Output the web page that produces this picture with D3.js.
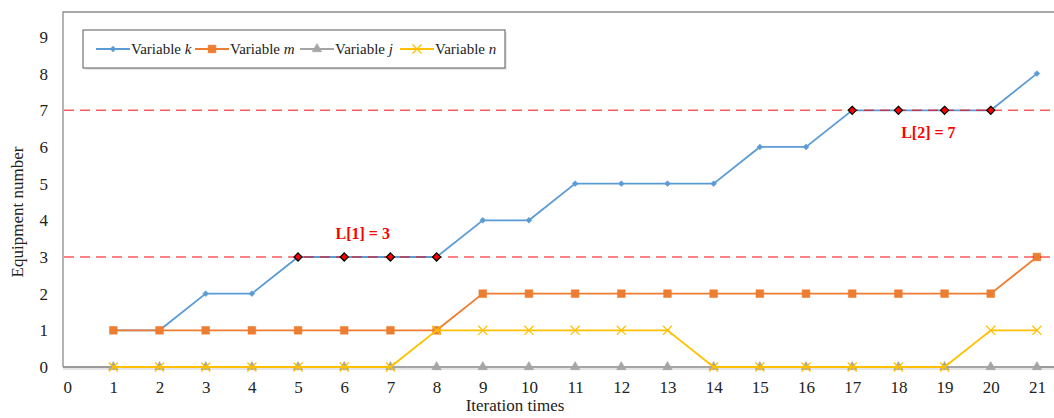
<!DOCTYPE html>
<html>
<head>
<meta charset="utf-8">
<script src="https://cdn.jsdelivr.net/npm/d3@7"></script>
<style>
    body { margin: 0; background: #fff; }
    svg text { font-family: "Liberation Serif", "Times New Roman", serif; fill: #222; }
</style>
</head>
<body>
<div id="chart"></div>
<script>
// iteration numbers on the x axis
const iterations = d3.range(1, 22);
const xTicks = d3.range(0, 22);
const yTicks = d3.range(0, 10);

// series values
const varK = [1, 1, 2, 2, 3, 3, 3, 3, 4, 4, 5, 5, 5, 5, 6, 6, 7, 7, 7, 7, 8];
const varM = [1, 1, 1, 1, 1, 1, 1, 1, 2, 2, 2, 2, 2, 2, 2, 2, 2, 2, 2, 2, 3];
const varJ = [0, 0, 0, 0, 0, 0, 0, 0, 0, 0, 0, 0, 0, 0, 0, 0, 0, 0, 0, 0, 0];
const varN = [0, 0, 0, 0, 0, 0, 0, 1, 1, 1, 1, 1, 1, 0, 0, 0, 0, 0, 0, 1, 1];

// limit lines and the highlighted k points on them
const limits = [3, 7];
const limitLabels = ['L[1] = 3', 'L[2] = 7'];
const limitLabelAt = [[6.4, 3.5], [18.65, 6.25]];
const highlighted = [5, 6, 7, 8, 17, 18, 19, 20];

const series = [
    { name: 'k', values: varK, color: '#5b9bd5', symbol: d3.symbolDiamond2, size: 22 },
    { name: 'm', values: varM, color: '#ed7d31', symbol: d3.symbolSquare, size: 60 },
    { name: 'j', values: varJ, color: '#a5a5a5', symbol: d3.symbolTriangle, size: 40 },
    { name: 'n', values: varN, color: '#ffc000', symbol: d3.symbolX, size: 55 }
];

const width = 1054, height = 418;
const plotLeft = 63, plotTop = 12, plotRight = 1054, plotBottom = 367;

const svg = d3.select('#chart').append('svg')
    .attr('width', width)
    .attr('height', height);

// scales, 0..21 with a bit of room at the right edge
const x = d3.scaleLinear().domain([-0.09, 21.37]).range([plotLeft, plotRight]);
const y = d3.scaleLinear().domain([0, 9.68]).range([plotBottom, plotTop]);

// plot frame (top and left)
svg.append('path')
    .attr('d', `M${plotLeft},${plotBottom} L${plotLeft},${plotTop} L${plotRight},${plotTop}`)
    .style('fill', 'none')
    .style('stroke', '#8c8c8c')
    .style('stroke-width', 1.3);

// y axis labels
svg.append('g')
    .attr('transform', `translate(${plotLeft},0)`)
    .call(d3.axisLeft(y).tickValues(yTicks).tickSize(0).tickPadding(15).tickFormat(d3.format('d')))
    .call(g => g.select('.domain').remove())
    .selectAll('text')
    .style('font-size', '17px')
    .style('font-family', '"Liberation Serif", serif')
    .attr('fill', '#222');

// x axis line and labels
svg.append('g')
    .attr('transform', `translate(0,${plotBottom})`)
    .call(d3.axisBottom(x).tickValues(xTicks).tickSize(0).tickPadding(14).tickFormat(d3.format('d')))
    .call(g => g.select('.domain').remove())
    .selectAll('text')
    .style('font-size', '17px')
    .style('font-family', '"Liberation Serif", serif')
    .attr('fill', '#222');

svg.append('line')
    .attr('x1', plotLeft).attr('x2', plotRight)
    .attr('y1', plotBottom).attr('y2', plotBottom)
    .style('stroke', '#7a7a7a')
    .style('stroke-width', 1.5);
svg.append('line')
    .attr('x1', plotLeft).attr('x2', plotRight)
    .attr('y1', plotBottom + 2).attr('y2', plotBottom + 2)
    .style('stroke', '#e6e6e6')
    .style('stroke-width', 2);

// axis titles
svg.append('text')
    .attr('x', 515)
    .attr('y', 411)
    .attr('text-anchor', 'middle')
    .style('font-size', '17px')
    .text('Iteration times');

svg.append('text')
    .attr('transform', 'translate(23,212) rotate(-90)')
    .attr('text-anchor', 'middle')
    .style('font-size', '17px')
    .text('Equipment number');

// series lines and markers
const line = d3.line()
    .x((d, i) => x(iterations[i]))
    .y(d => y(d));

series.forEach(s => {
    svg.append('path')
        .datum(s.values)
        .attr('d', line)
        .style('fill', 'none')
        .style('stroke', s.color)
        .style('stroke-width', 1.8);

    svg.append('g')
        .selectAll('path')
        .data(s.values)
        .enter()
        .append('path')
        .attr('transform', (d, i) => `translate(${x(iterations[i])},${y(d)})`)
        .attr('d', d3.symbol(s.symbol, s.size))
        .style('fill', s.name === 'n' ? 'none' : s.color)
        .style('stroke', s.color)
        .style('stroke-width', s.name === 'n' ? 1.3 : 0.5);
});

// red dashed limit lines
svg.append('g')
    .selectAll('line')
    .data(limits)
    .enter()
    .append('line')
    .attr('x1', plotLeft + 1).attr('x2', plotRight)
    .attr('y1', d => y(d)).attr('y2', d => y(d))
    .style('stroke', '#ff0000')
    .style('stroke-opacity', 0.65)
    .style('stroke-width', 1.6)
    .style('stroke-dasharray', '10,6');

// highlighted k points
svg.append('g')
    .selectAll('path')
    .data(highlighted)
    .enter()
    .append('path')
    .attr('transform', d => `translate(${x(d)},${y(varK[d - 1])})`)
    .attr('d', d3.symbol(d3.symbolDiamond2, 42))
    .style('fill', '#ff0000')
    .style('stroke', '#000')
    .style('stroke-width', 1.2);

// limit labels
svg.append('g')
    .selectAll('text')
    .data(limitLabels)
    .enter()
    .append('text')
    .attr('x', (d, i) => x(limitLabelAt[i][0]))
    .attr('y', (d, i) => y(limitLabelAt[i][1]))
    .attr('text-anchor', 'middle')
    .style('font-size', '16px')
    .style('font-weight', 'bold')
    .style('fill', '#ff0000')
    .text(d => d);

// legend box with a soft shadow
const legend = svg.append('g').attr('transform', 'translate(83,30)');
legend.append('rect')
    .attr('x', 2).attr('y', 2)
    .attr('width', 422).attr('height', 38)
    .style('fill', '#e8e8e8');
legend.append('rect')
    .attr('width', 422).attr('height', 38)
    .style('fill', '#fff')
    .style('stroke', '#595959')
    .style('stroke-width', 1);

const legendX = [13, 112, 217, 317];
series.forEach((s, i) => {
    const g = legend.append('g').attr('transform', `translate(${legendX[i]},19)`);
    g.append('line')
        .attr('x1', 0).attr('x2', 34)
        .style('stroke', s.color)
        .style('stroke-width', 1.8);
    g.append('path')
        .attr('transform', 'translate(17,0)')
        .attr('d', d3.symbol(s.symbol, s.size))
        .style('fill', s.name === 'n' ? 'none' : s.color)
        .style('stroke', s.color)
        .style('stroke-width', s.name === 'n' ? 1.3 : 0.5);
    const t = g.append('text')
        .attr('x', 35)
        .attr('y', 5)
        .style('font-size', '15px');
    t.append('tspan').text('Variable ');
    t.append('tspan').style('font-style', 'italic').text(s.name);
});
</script>
</body>
</html>
